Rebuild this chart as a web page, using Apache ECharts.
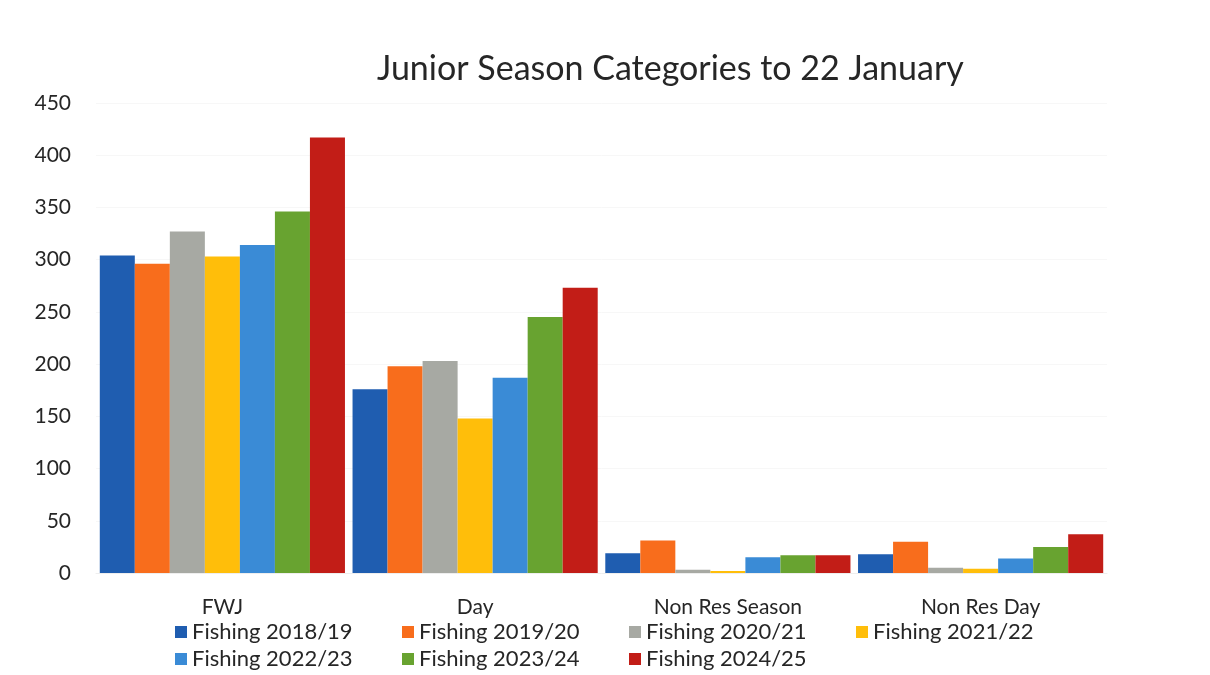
<!DOCTYPE html>
<html>
<head>
<meta charset="utf-8">
<title>Junior Season Categories to 22 January</title>
<script src="https://cdn.jsdelivr.net/npm/echarts@6/dist/echarts.min.js"></script>
<style>
  html, body { margin: 0; padding: 0; background: #ffffff; }
  #chart { width: 1210px; height: 675px; }
</style>
</head>
<body>
<div id="chart"></div>
<script>
// Licence categories on the x axis
const categories = ['FWJ', 'Day', 'Non Res Season', 'Non Res Day'];

// One series per fishing season, values per category
const seasons = ['Fishing 2018/19', 'Fishing 2019/20', 'Fishing 2020/21', 'Fishing 2021/22',
                 'Fishing 2022/23', 'Fishing 2023/24', 'Fishing 2024/25'];
const fishing201819 = [304, 176, 19, 18];
const fishing201920 = [296, 198, 31, 30];
const fishing202021 = [327, 203, 3, 5];
const fishing202122 = [303, 148, 2, 4];
const fishing202223 = [314, 187, 15, 14];
const fishing202324 = [346, 245, 17, 25];
const fishing202425 = [417, 273, 17, 37];

const seasonValues = [fishing201819, fishing201920, fishing202021, fishing202122,
                      fishing202223, fishing202324, fishing202425];
const seasonColors = ['#1F5DB0', '#F86D1C', '#A7A9A3', '#FFBE0A', '#3A8BD6', '#68A330', '#C21D17'];

const yTicks = { min: 0, max: 450, interval: 50 };

const font = 'Lato, "Open Sans", sans-serif';

const chart = echarts.init(document.getElementById('chart'), null, { renderer: 'canvas' });

chart.setOption({
  backgroundColor: '#ffffff',
  animation: false,
  textStyle: { fontFamily: font },
  title: {
    text: 'Junior Season Categories to 22 January',
    left: 372,
    top: 47,
    textStyle: { fontFamily: font, fontSize: 34, fontWeight: 'normal', color: '#262626' }
  },
  grid: { left: 96, right: 103, top: 103, bottom: 102 },
  xAxis: {
    type: 'category',
    data: categories,
    axisTick: { show: false },
    axisLine: { show: true, lineStyle: { color: '#eeeeee', width: 1 } },
    axisLabel: { fontSize: 21, color: '#262626', margin: 24, fontFamily: font }
  },
  yAxis: {
    type: 'value',
    min: yTicks.min,
    max: yTicks.max,
    interval: yTicks.interval,
    axisLine: { show: false },
    axisTick: { show: false },
    splitLine: { show: true, lineStyle: { color: '#f7f7f7', width: 1 } },
    axisLabel: { fontSize: 21, color: '#262626', margin: 25, fontFamily: font }
  },
  legend: {
    data: seasons,
    left: 170,
    top: 616,
    width: 915,
    orient: 'horizontal',
    itemWidth: 12,
    itemHeight: 12,
    itemGap: 5,
    icon: 'rect',
    textStyle: { fontSize: 22, color: '#262626', width: 205, lineHeight: 22, fontFamily: font }
  },
  series: seasons.map((name, i) => ({
    name: name,
    type: 'bar',
    data: seasonValues[i],
    barGap: '0%',
    barCategoryGap: '3%',
    itemStyle: { color: seasonColors[i] }
  }))
});
</script>
</body>
</html>
